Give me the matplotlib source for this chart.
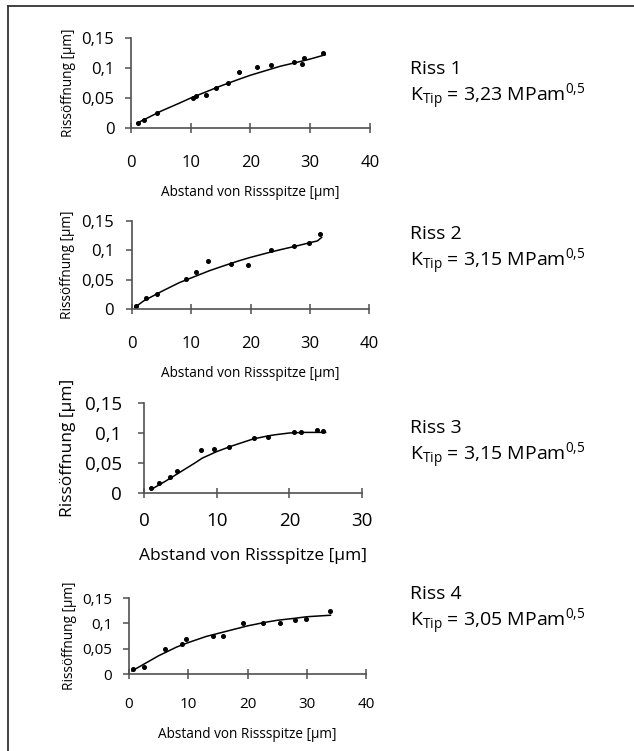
import numpy as np
import matplotlib
matplotlib.use("Agg")
import matplotlib.pyplot as plt
from matplotlib.lines import Line2D

plt.rcParams['font.family'] = ['Open Sans', 'DejaVu Sans']
plt.rcParams['mathtext.fontset'] = 'custom'
plt.rcParams['mathtext.rm'] = 'Open Sans'
plt.rcParams['mathtext.it'] = 'Open Sans'

# measured points (x in um, opening in um)
riss1_x = [1.1, 2.1, 4.4, 10.4, 10.8, 12.5, 14.2, 16.2, 18.0, 21.1, 23.4, 27.3, 28.7, 29.0, 32.2]
riss1_y = [0.009, 0.013, 0.025, 0.050, 0.054, 0.055, 0.067, 0.075, 0.094, 0.101, 0.105, 0.110, 0.106, 0.116, 0.125]
riss1_fit_x = [1, 3, 5, 8, 10, 13, 15, 18, 20, 23, 25, 28, 30, 32.5]
riss1_fit_y = [0.008, 0.018, 0.028, 0.041, 0.050, 0.062, 0.070, 0.081, 0.088, 0.097, 0.103, 0.110, 0.115, 0.122]

riss2_x = [0.6, 2.4, 4.3, 9.1, 10.8, 12.9, 16.7, 19.6, 23.4, 27.4, 29.8, 31.7]
riss2_y = [0.0045, 0.018, 0.025, 0.051, 0.063, 0.081, 0.076, 0.075, 0.101, 0.108, 0.113, 0.127]
riss2_fit_x = [0.5, 2, 5, 8, 10, 13, 15, 18, 20, 23, 25, 28, 30, 31.3, 32]
riss2_fit_y = [0.003, 0.014, 0.030, 0.045, 0.053, 0.065, 0.072, 0.082, 0.088, 0.096, 0.101, 0.108, 0.113, 0.116, 0.122]

riss3_x = [0.9, 2.0, 3.6, 4.5, 7.8, 9.6, 11.7, 15.1, 17.0, 20.7, 21.6, 23.8, 24.7]
riss3_y = [0.009, 0.016, 0.027, 0.036, 0.072, 0.074, 0.077, 0.091, 0.094, 0.102, 0.102, 0.105, 0.103]
riss3_fit_x = [1, 3, 5, 7, 8, 10, 12, 14, 15, 17, 18, 20, 22, 25]
riss3_fit_y = [0.006, 0.020, 0.035, 0.050, 0.058, 0.069, 0.078, 0.086, 0.090, 0.095, 0.097, 0.100, 0.101, 0.101]

riss4_x = [0.7, 2.5, 6.1, 9.0, 9.7, 14.1, 15.9, 19.3, 22.6, 25.5, 28.0, 29.9, 33.9]
riss4_y = [0.009, 0.013, 0.050, 0.059, 0.070, 0.075, 0.075, 0.100, 0.100, 0.101, 0.107, 0.109, 0.124]
riss4_fit_x = [0.5, 2, 5, 8, 10, 13, 15, 18, 20, 23, 25, 28, 30, 34]
riss4_fit_y = [0.006, 0.016, 0.036, 0.053, 0.062, 0.074, 0.080, 0.089, 0.095, 0.102, 0.106, 0.110, 0.113, 0.116]

names = ["Riss 1", "Riss 2", "Riss 3", "Riss 4"]
k_tip = ["3,23", "3,15", "3,15", "3,05"]
x_max = [40, 40, 30, 40]

W, H = 634, 751
fig = plt.figure(figsize=(W / 100, H / 100), dpi=100)

# axes boxes in pixels: left, right(x_max), y0, y(0.15)
boxes = [(131, 370, 128, 38), (132, 369, 309, 221), (144, 362, 493, 403), (129, 366, 674, 598)]
fsize = [12, 12, 13.5, 11]
lsize = [9.8, 9.8, 12.5, 9.8]
xpad = [16, 16, 10, 13]
xlpad = [10, 10, 13, 11]
ypad = [8, 9, 12, 8]
ylpad = [4, 4, 6, 4]
text_y = [86, 251, 445, 611]

series = [(riss1_x, riss1_y, riss1_fit_x, riss1_fit_y),
          (riss2_x, riss2_y, riss2_fit_x, riss2_fit_y),
          (riss3_x, riss3_y, riss3_fit_x, riss3_fit_y),
          (riss4_x, riss4_y, riss4_fit_x, riss4_fit_y)]

gray = '#505050'
for i, (px, py, fx, fy) in enumerate(series):
    l, r, y0, y1 = boxes[i]
    ax = fig.add_axes([l / W, 1 - y0 / H, (r - l) / W, (y0 - y1) / H])
    ax.plot(fx, fy, color='black', lw=1.1)
    ax.plot(px, py, 'o', color='black', ms=2.6)
    ax.set_xlim(0, x_max[i])
    ax.set_ylim(0, 0.15)
    ax.set_xticks(np.arange(0, x_max[i] + 1, 10))
    ax.set_yticks([0, 0.05, 0.1, 0.15])
    ax.set_yticklabels(['0', '0,05', '0,1', '0,15'])
    for s in ['top', 'right']:
        ax.spines[s].set_visible(False)
    for s in ['left', 'bottom']:
        ax.spines[s].set_color(gray)
        ax.spines[s].set_linewidth(1.2)
    ax.tick_params(axis='x', direction='inout', length=7, width=1.1, color=gray,
                   labelsize=fsize[i], pad=xpad[i])
    ax.tick_params(axis='y', direction='out', length=4, width=1.1, color=gray,
                   labelsize=fsize[i], pad=ypad[i])
    ax.set_xlabel("Abstand von Rissspitze [µm]", fontsize=lsize[i], labelpad=xlpad[i])
    ax.set_ylabel("Rissöffnung [µm]", fontsize=lsize[i], labelpad=ylpad[i])
    ax.patch.set_alpha(0)

    label = names[i] + "\n" + r'K$_{\mathrm{Tip}}$ = ' + k_tip[i] + r' MPam$^{0{,}5}$'
    fig.text(410 / W, 1 - text_y[i] / H, label, fontsize=14, va='center', ha='left',
             linespacing=1.15)

# frame (open to the right and bottom, as in the scan)
fig.add_artist(Line2D([7.5 / W, 7.5 / W], [0, 1 - 6 / H], color='#333333', lw=1.3))
fig.add_artist(Line2D([7.5 / W, 1], [1 - 6 / H, 1 - 6 / H], color='#333333', lw=1.3))

fig.savefig("out.png", dpi=100)
